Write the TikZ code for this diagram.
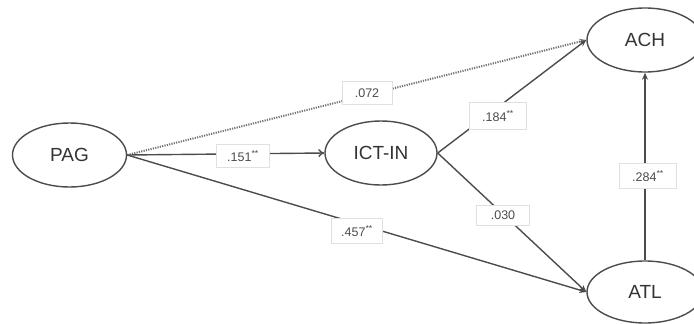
\documentclass[tikz,border=0pt]{standalone}
\usepackage{fontspec}
\setmainfont{Liberation Sans}
\usetikzlibrary{arrows.meta,shapes.geometric}
\begin{document}
\begin{tikzpicture}[x=1pt,y=-1pt,
  var/.style={ellipse,draw=black!70,line width=1.4pt,minimum width=114pt,minimum height=64pt,inner sep=0pt,font=\fontsize{19}{19}\selectfont,text=black!80},
  path/.style={draw=black!70,line width=1.4pt,-{Stealth[length=7pt,width=6pt]}},
  coef/.style={fill=white,draw=black!12,line width=0.5pt,minimum width=50pt,minimum height=23pt,inner sep=1pt,font=\fontsize{12.5}{12.5}\selectfont,text=black!70}]
\useasboundingbox (0,0) rectangle (694,324);
\node[var] (pag) at (69.5,155) {PAG};
\node[var,minimum width=112pt] (ict) at (381,153) {ICT-IN};
\node[var,minimum width=116pt] (ach) at (645,40) {ACH};
\node[var,minimum width=116pt,minimum height=62pt] (atl) at (645,292) {ATL};
\draw[path,dash pattern=on 1.2pt off 1.2pt,line width=2pt,draw=black!55] (pag.east) -- (ach.west);
\draw[path,-{To[length=6pt,width=8pt]}] (pag.east) -- (ict.west);
\draw[path] (pag.east) -- (atl.west);
\draw[path] (ict.east) -- (ach.west);
\draw[path] (ict.east) -- (atl.west);
\draw[path] (atl.north) -- (ach.south);
\node[coef] (c1) at (367,93) {.072};
\node[coef,minimum width=53pt] (c2) at (243,156) {.151\textsuperscript{**}};
\node[coef,minimum width=57pt,minimum height=27pt] (c3) at (498,116) {.184\textsuperscript{**}};
\node[coef,minimum width=51pt,minimum height=25pt] (c4) at (357,231) {.457\textsuperscript{**}};
\node[coef,minimum width=53pt,minimum height=20pt] (c5) at (503,215) {.030};
\node[coef,minimum width=57pt,minimum height=25pt] (c6) at (648,176) {.284\textsuperscript{**}};
\end{tikzpicture}
\end{document}
